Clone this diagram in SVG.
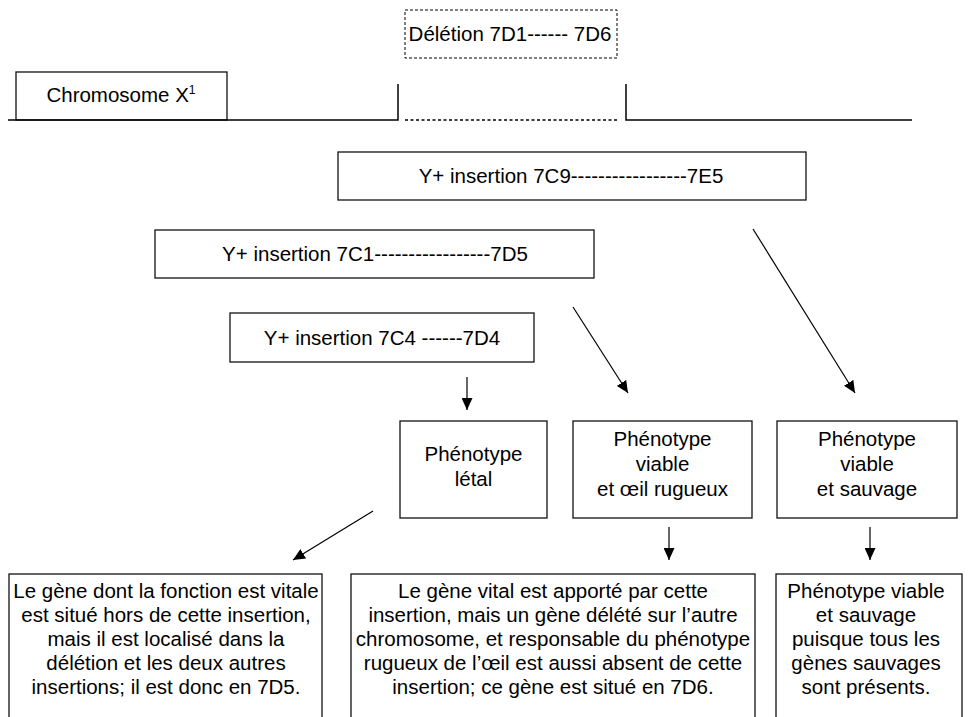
<svg xmlns="http://www.w3.org/2000/svg" width="968" height="717" viewBox="0 0 968 717">
<defs>
<marker id="ah" viewBox="0 0 12 11" refX="12" refY="5.5" markerWidth="12" markerHeight="11" markerUnits="userSpaceOnUse" orient="auto">
<path d="M0,0 L12,5.5 L0,11 Z" fill="#000"/>
</marker>
<style>
.box{fill:#fff;stroke:#111;stroke-width:1.3}
.dbox{fill:#fff;stroke:#000;stroke-width:1;stroke-dasharray:3,2}
.t{font-family:"Liberation Sans",Arial,sans-serif;font-size:20.5px;fill:#000;text-anchor:middle}
.ln{stroke:#000;stroke-width:1.5;fill:none}
.ar{stroke:#000;stroke-width:1.2;fill:none;marker-end:url(#ah)}
</style>
</defs>
<rect width="968" height="717" fill="#fff"/>
<g id="deletion">
<rect class="dbox" x="405" y="10" width="212" height="48"/>
<text class="t" x="510" y="41">Délétion 7D1------ 7D6</text>
</g>
<g id="chromosome">
<rect class="box" x="16" y="72" width="211" height="48"/>
<text class="t" x="121" y="102">Chromosome X<tspan font-size="12" dy="-8">1</tspan></text>
</g>
<g id="chromosome-line">
<path class="ln" d="M8,120 H398 V84 M626,84 V120 H912"/>
<path d="M405,120 H618" stroke="#000" stroke-width="1.3" stroke-dasharray="3,2.5" fill="none"/>
</g>
<g id="ins-7C9">
<rect class="box" x="338" y="152" width="468" height="48"/>
<text class="t" x="571" y="183">Y+ insertion 7C9-----------------7E5</text>
</g>
<g id="ins-7C1">
<rect class="box" x="155" y="230" width="439" height="48"/>
<text class="t" x="375" y="261">Y+ insertion 7C1-----------------7D5</text>
</g>
<g id="ins-7C4">
<rect class="box" x="230" y="313" width="304" height="49"/>
<text class="t" x="382" y="345">Y+ insertion 7C4 ------7D4</text>
</g>
<g id="pheno-letal">
<rect class="box" x="400" y="421" width="147" height="97"/>
<text class="t" x="473.5" y="461">Phénotype</text>
<text class="t" x="473.5" y="486">létal</text>
</g>
<g id="pheno-rugueux">
<rect class="box" x="573" y="421" width="179" height="97"/>
<text class="t" x="662.5" y="446">Phénotype</text>
<text class="t" x="662.5" y="471">viable</text>
<text class="t" x="662.5" y="496">et œil rugueux</text>
</g>
<g id="pheno-sauvage">
<rect class="box" x="777" y="421" width="180" height="97"/>
<text class="t" x="867" y="446">Phénotype</text>
<text class="t" x="867" y="471">viable</text>
<text class="t" x="867" y="496">et sauvage</text>
</g>
<g id="conc-letal">
<rect class="box" x="9" y="574" width="313" height="160"/>
<text class="t" x="166" y="598">Le gène dont la fonction est vitale</text>
<text class="t" x="166" y="622">est situé hors de cette insertion,</text>
<text class="t" x="166" y="646">mais il est localisé dans la</text>
<text class="t" x="166" y="670">délétion et les deux autres</text>
<text class="t" x="166" y="694">insertions; il est donc en 7D5.</text>
</g>
<g id="conc-rugueux">
<rect class="box" x="351" y="574" width="404" height="160"/>
<text class="t" x="553" y="598">Le gène vital est apporté par cette</text>
<text class="t" x="553" y="622">insertion, mais un gène délété sur l’autre</text>
<text class="t" x="553" y="646">chromosome, et responsable du phénotype</text>
<text class="t" x="553" y="670">rugueux de l’œil est aussi absent de cette</text>
<text class="t" x="553" y="694">insertion; ce gène est situé en 7D6.</text>
</g>
<g id="conc-sauvage">
<rect class="box" x="776" y="574" width="186" height="160"/>
<text class="t" x="866" y="598">Phénotype viable</text>
<text class="t" x="866" y="622">et sauvage</text>
<text class="t" x="866" y="646">puisque tous les</text>
<text class="t" x="866" y="670">gènes sauvages</text>
<text class="t" x="866" y="694">sont présents.</text>
</g>
<g id="connectors">
<line class="ar" x1="467" y1="377" x2="467" y2="410"/>
<line class="ar" x1="573" y1="307" x2="628" y2="393"/>
<line class="ar" x1="753" y1="229" x2="855" y2="393"/>
<line class="ar" x1="373" y1="511" x2="293" y2="560"/>
<line class="ar" x1="669" y1="527" x2="669" y2="560"/>
<line class="ar" x1="870" y1="527" x2="870" y2="560"/>
</g>
</svg>
